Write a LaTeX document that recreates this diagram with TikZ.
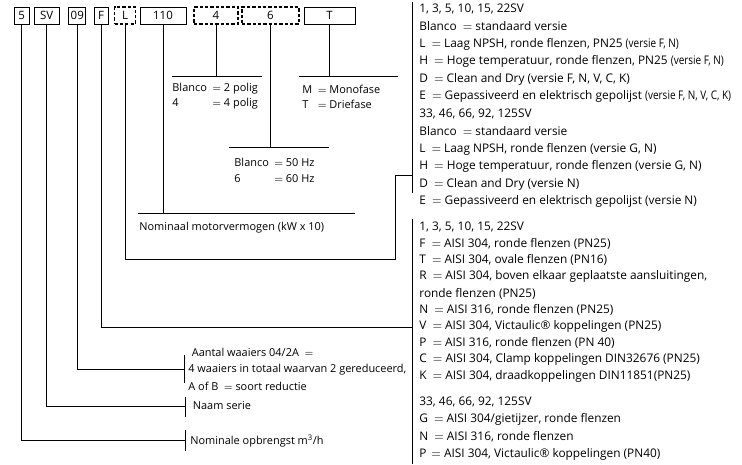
\documentclass[tikz,border=0pt]{standalone}
\usepackage{fontspec}
\setmainfont{Open Sans}
\newfontfamily\condfont[FakeStretch=0.84]{Open Sans}
\newcommand\cond[1]{{\condfont #1}}
\newcommand\eq{\hspace{0.25em}$=$\hspace{0.25em}}
\begin{document}
\begin{tikzpicture}[x=0.75pt,y=-0.75pt,line width=0.6pt,
  txt/.style={anchor=west,inner sep=0pt,font=\fontsize{8.2}{9.8}\selectfont},
  rtxt/.style={anchor=west,inner sep=0pt,font=\fontsize{8.9}{10.5}\selectfont},
  sbox/.style={draw,line width=0.6pt,inner sep=0pt,minimum height=12.75pt,font=\fontsize{8.6}{10}\selectfont},
  dbox/.style={sbox,line width=1.2pt,dash pattern=on 2.4pt off 1.6pt}]
\useasboundingbox (0,0) rectangle (742,464);
% code boxes
\node[sbox,minimum width=11.25pt] (b5) at (21.7,15.5) {5};
\node[sbox,minimum width=18.75pt] (bSV) at (46.7,15.5) {SV};
\node[sbox,minimum width=12.75pt] (b09) at (77.3,15.5) {09};
\node[sbox,minimum width=10.5pt] (bF) at (101,15.5) {F};
\node[dbox,minimum width=15.75pt] (bL) at (125,15.5) {L};
\node[sbox,minimum width=34.5pt] (b110) at (163,15.5) {110};
\node[dbox,minimum width=33pt] (b4) at (216,15.5) {4};
\node[dbox,minimum width=42.75pt] (b6) at (270.5,15.5) {6};
\node[sbox,minimum width=38.25pt] (bT) at (329.5,15.5) {T};
% left labels
\node[txt] (p1) at (172,89) {Blanco \eq 2 polig};
\node[txt] (p2) at (172,104) {\rlap{4}\hphantom{Blanco} \eq 4 polig};
\node[txt] (m1) at (302,89) {M \eq Monofase};
\node[txt] (m2) at (302,104) {\rlap{T}\hphantom{M} \eq Driefase};
\node[txt] (h1) at (234,162) {Blanco \eq 50 Hz};
\node[txt] (h2) at (234,179) {\rlap{6}\hphantom{Blanco} \eq 60 Hz};
\node[txt] (nm) at (139,228) {Nominaal motorvermogen (kW x 10)};
\node[txt] (a1) at (191.5,352.7) {Aantal waaiers 04/2A \eq};
\node[txt] (a2) at (188,370) {4 waaiers in totaal waarvan 2 gereduceerd,};
\node[txt] (a3) at (188,386) {A of B \eq soort reductie};
\node[txt] (ns) at (192.5,406) {Naam serie};
\node[txt] (no) at (190,441) {Nominale opbrengst m\textsuperscript{3}/h};
% right column
\node[rtxt] (r1) at (419,9) {1, 3, 5, 10, 15, 22SV};
\node[rtxt] (r2) at (419,26.5) {Blanco \eq standaard versie};
\node[rtxt] (r3) at (419,44) {L \eq Laag NPSH, ronde flenzen, PN25 \cond{(versie F, N)}};
\node[rtxt] (r4) at (419,61.5) {H \eq Hoge temperatuur, ronde flenzen, PN25 \cond{(versie F, N)}};
\node[rtxt] (r5) at (419,79) {D \eq Clean and Dry (versie F, N, V, C, K)};
\node[rtxt] (r6) at (419,96.5) {E \eq Gepassiveerd en elektrisch gepolijst \cond{(versie F, N, V, C, K)}};
\node[rtxt] (r7) at (419,114) {33, 46, 66, 92, 125SV};
\node[rtxt] (r8) at (419,131.5) {Blanco \eq standaard versie};
\node[rtxt] (r9) at (419,149) {L \eq Laag NPSH, ronde flenzen (versie G, N)};
\node[rtxt] (r10) at (419,166.5) {H \eq Hoge temperatuur, ronde flenzen (versie G, N)};
\node[rtxt] (r11) at (419,184) {D \eq Clean and Dry (versie N)};
\node[rtxt] (r12) at (419,201.5) {E \eq Gepassiveerd en elektrisch gepolijst (versie N)};
\node[rtxt] (r13) at (419,227) {1, 3, 5, 10, 15, 22SV};
\node[rtxt] (r14) at (419,243.6) {F \eq AISI 304, ronde flenzen (PN25)};
\node[rtxt] (r15) at (419,260.2) {T \eq AISI 304, ovale flenzen (PN16)};
\node[rtxt] (r16) at (419,276.8) {R \eq AISI 304, boven elkaar geplaatste aansluitingen,};
\node[rtxt] (r17) at (419,293.4) {ronde flenzen (PN25)};
\node[rtxt] (r18) at (419,310) {N \eq AISI 316, ronde flenzen (PN25)};
\node[rtxt] (r19) at (419,326.6) {V \eq AISI 304, Victaulic® koppelingen (PN25)};
\node[rtxt] (r20) at (419,343.2) {P \eq AISI 316, ronde flenzen (PN 40)};
\node[rtxt] (r21) at (419,359.8) {C \eq AISI 304, Clamp koppelingen DIN32676 (PN25)};
\node[rtxt] (r22) at (419,376.4) {K \eq AISI 304, draadkoppelingen DIN11851(PN25)};
\node[rtxt] (r23) at (419,402) {33, 46, 66, 92, 125SV};
\node[rtxt] (r24) at (419,419.5) {G \eq AISI 304/gietijzer, ronde flenzen};
\node[rtxt] (r25) at (419,437) {N \eq AISI 316, ronde flenzen};
\node[rtxt] (r26) at (419,454.5) {P\,\eq AISI 304, Victaulic® koppelingen (PN40)};
% brackets
\coordinate (brA1) at (412,2); \coordinate (brA2) at (412,193);
\coordinate (brB1) at (412,219); \coordinate (brB2) at (412,464);
\draw (brA1) -- (brA2);
\draw (brB1) -- (brB2);
% horizontal rules under codes
\coordinate (h4a) at (172,76); \coordinate (h4b) at (262,76);
\coordinate (hTa) at (299,76); \coordinate (hTb) at (398,76);
\coordinate (h6a) at (229,147); \coordinate (h6b) at (329,147);
\coordinate (hNa) at (137.7,213); \coordinate (hNb) at (355,213);
\draw (h4a) -- (h4b);
\draw (hTa) -- (hTb);
\draw (h6a) -- (h6b);
\draw (hNa) -- (hNb);
\draw (b4.south) -- (b4.south |- h4a);
\draw (bT.south) -- (bT.south |- hTa);
\draw (b6.south) -- (b6.south |- h6a);
\draw (b110.south) -- (b110.south |- hNa);
% L connector
\coordinate (jL1) at (395,259); \coordinate (jL2) at (412,175);
\draw (bL.south) |- (jL1) |- (jL2);
% F connector
\coordinate (jF) at (412,327);
\draw (bF.south) |- (jF);
% ticks
\coordinate (k09) at (184,369); \coordinate (k09a) at (184,355); \coordinate (k09b) at (184,383);
\coordinate (kSV) at (185.7,406); \coordinate (kSVa) at (185.7,396.5); \coordinate (kSVb) at (185.7,416.5);
\coordinate (k5) at (185.7,440); \coordinate (k5a) at (185.7,430); \coordinate (k5b) at (185.7,451);
\draw (b09.south) |- (k09); \draw (k09a) -- (k09b);
\draw (bSV.south) |- (kSV); \draw (kSVa) -- (kSVb);
\draw (b5.south) |- (k5); \draw (k5a) -- (k5b);
\end{tikzpicture}
\end{document}
